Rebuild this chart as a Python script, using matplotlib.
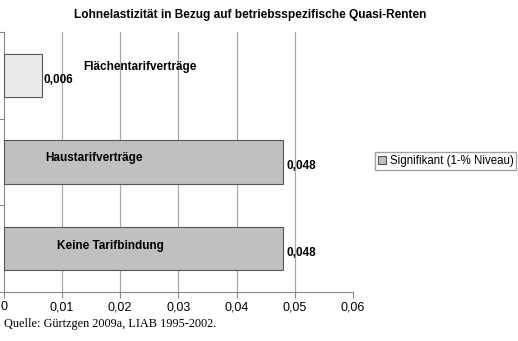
import matplotlib
matplotlib.use("Agg")
import matplotlib.pyplot as plt
import numpy as np

# data
categories = ["Flächentarifverträge", "Haustarifverträge", "Keine Tarifbindung"]
values = [0.0066, 0.048, 0.048]
value_labels = ["0,006", "0,048", "0,048"]
significant = [False, True, True]
xticks = [0, 0.01, 0.02, 0.03, 0.04, 0.05, 0.06]
xticklabels = ["0", "0,01", "0,02", "0,03", "0,04", "0,05", "0,06"]

plt.rcParams['font.family'] = ['Liberation Sans', 'DejaVu Sans']

fig = plt.figure(figsize=(5.18, 3.41), dpi=100)
ax = fig.add_axes([0.0068, 0.1437, 0.675, 0.7625])

y = np.arange(len(categories))[::-1]
colors = ["#c0c0c0" if s else "#ebebeb" for s in significant]
bars = ax.barh(y, values, height=0.5, color=colors, edgecolor="#555555", linewidth=0.8, zorder=3)

ax.set_xlim(0, 0.06)
ax.set_ylim(-0.5, 2.5)
ax.set_xticks(xticks)
ax.set_xticklabels(xticklabels, fontsize=9)
ax.set_yticks([-0.5, 0.5, 1.5, 2.5])
ax.set_yticklabels([])
ax.tick_params(axis='y', length=4, color="#888888")
ax.tick_params(axis='x', length=4, color="#888888", pad=2.5)
for t in xticks[1:-1]:
    ax.axvline(t, color="#aaaaaa", linewidth=0.9, zorder=1)
ax.spines['top'].set_visible(False)
ax.spines['right'].set_visible(False)
ax.spines['left'].set_color("#888888")
ax.spines['bottom'].set_color("#888888")

# value labels
for yi, v, lab in zip(y, values, value_labels):
    ax.text(v + 0.0002 if v < 0.01 else v + 0.0006, yi - 0.05, lab, fontsize=8.5,
            fontweight='bold', va='center', ha='left', zorder=4)

# category labels inside/near bars
ax.text(0.0136, y[0] + 0.1, categories[0], fontsize=8.5, fontweight='bold', va='center', ha='left', zorder=4)
ax.text(0.0071, y[1] + 0.05, categories[1], fontsize=8.5, fontweight='bold', va='center', ha='left', zorder=4)
ax.text(0.0091, y[2] + 0.03, categories[2], fontsize=8.5, fontweight='bold', va='center', ha='left', zorder=4)

ax.legend([bars[1]], ["Signifikant (1-% Niveau)"], loc='center left', bbox_to_anchor=(1.045, 0.505),
          fontsize=8.3, frameon=True, fancybox=False, edgecolor="#888888", handlelength=0.7,
          handleheight=0.7, handletextpad=0.35, borderpad=0.25)

fig.text(0.483, 0.955, "Lohnelastizität in Bezug auf betriebsspezifische Quasi-Renten",
         fontsize=8.6, fontweight='bold', ha='center', va='center')
fig.text(0.008, 0.05, "Quelle: Gürtzgen 2009a, LIAB 1995-2002.", fontsize=8.8,
         family=['Liberation Serif', 'DejaVu Serif'], ha='left', va='center')

fig.savefig("out.png", dpi=100)
